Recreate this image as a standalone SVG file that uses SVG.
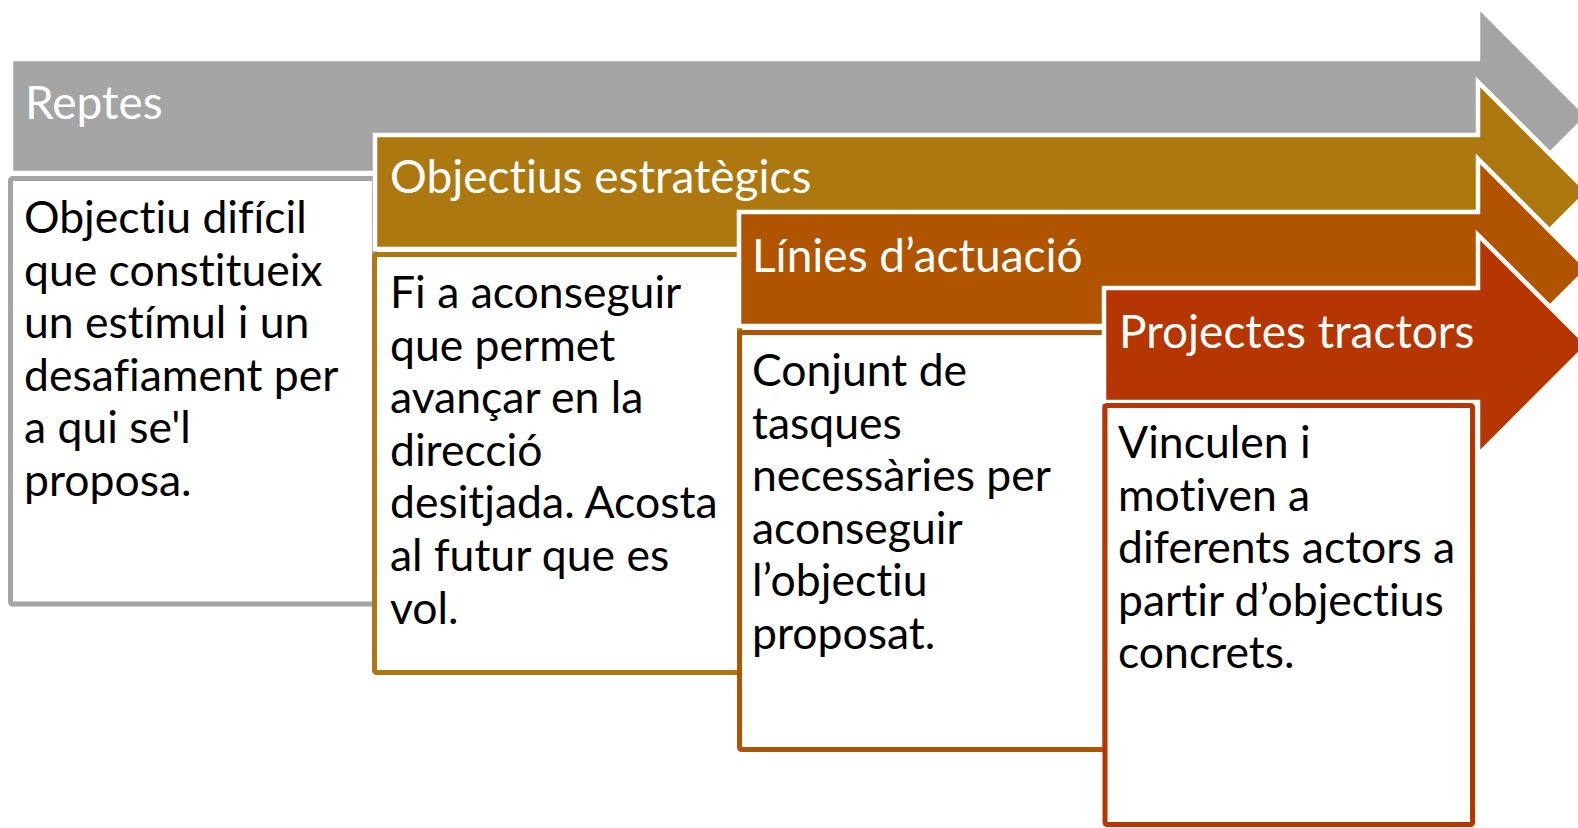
<svg xmlns="http://www.w3.org/2000/svg" width="1578" height="828" viewBox="0 0 1578 828">
<style>
  .arrow { stroke: #FFFFFF; stroke-width: 4.5; stroke-linejoin: miter; }
  .box { fill: #FFFFFF; stroke-width: 5; }
  .head { font-family: Lato, "Liberation Sans", sans-serif; font-size: 46px; fill: #FFFFFF; font-variant-ligatures: none; }
  .body { font-family: Lato, "Liberation Sans", sans-serif; font-size: 44.5px; fill: #000000; font-variant-ligatures: none; }
  .c1 { fill: #A5A5A5; } .s1 { stroke: #A5A5A5; }
  .c2 { fill: #AE7810; } .s2 { stroke: #AE7810; }
  .c3 { fill: #B05400; } .s3 { stroke: #B05400; }
  .c4 { fill: #B53600; } .s4 { stroke: #B53600; }
</style>
<rect width="1578" height="828" fill="#FFFFFF"/>

<g id="node-reptes">
  <polygon class="arrow c1" points="11,59 1478,59 1478,6 1588,116 1478,226 1478,173 11,173"/>
  <text class="head" x="25" y="119">Reptes</text>
  <rect class="box s1" x="10.5" y="178.5" width="364" height="425.5" rx="2"/>
  <text class="body" x="24" y="233">
    <tspan x="24" dy="0">Objectiu difícil</tspan>
    <tspan x="24" dy="52.6">que constitueix</tspan>
    <tspan x="24" dy="52.6">un estímul i un</tspan>
    <tspan x="24" dy="52.6">desafiament per</tspan>
    <tspan x="24" dy="52.6">a qui se'l</tspan>
    <tspan x="24" dy="52.6">proposa.</tspan>
  </text>
</g>

<g id="node-objectius">
  <polygon class="arrow c2" points="375,135 1478,135 1478,82 1588,192 1478,302 1478,249 375,249"/>
  <text class="head" x="390" y="193">Objectius estratègics</text>
  <rect class="box s2" x="374.5" y="254.5" width="365" height="418" rx="2"/>
  <text class="body" x="390" y="308">
    <tspan x="390" dy="0">Fi a aconseguir</tspan>
    <tspan x="390" dy="52.6">que permet</tspan>
    <tspan x="390" dy="52.6">avançar en la</tspan>
    <tspan x="390" dy="52.6">direcció</tspan>
    <tspan x="390" dy="52.6">desitjada. Acosta</tspan>
    <tspan x="390" dy="52.6">al futur que es</tspan>
    <tspan x="390" dy="52.6">vol.</tspan>
  </text>
</g>

<g id="node-linies">
  <polygon class="arrow c3" points="739,212 1478,212 1478,159 1588,269 1478,379 1478,326 739,326"/>
  <text class="head" x="752" y="272">Línies d’actuació</text>
  <rect class="box s3" x="739.5" y="332.5" width="365.5" height="417" rx="2"/>
  <text class="body" x="752" y="386">
    <tspan x="752" dy="0">Conjunt de</tspan>
    <tspan x="752" dy="52.6">tasques</tspan>
    <tspan x="752" dy="52.6">necessàries per</tspan>
    <tspan x="752" dy="52.6">aconseguir</tspan>
    <tspan x="752" dy="52.6">l’objectiu</tspan>
    <tspan x="752" dy="52.6">proposat.</tspan>
  </text>
</g>

<g id="node-projectes">
  <polygon class="arrow c4" points="1104,288 1478,288 1478,235 1588,345 1478,455 1478,402 1104,402"/>
  <text class="head" x="1119" y="348">Projectes tractors</text>
  <rect class="box s4" x="1105" y="405.5" width="367.5" height="419" rx="2"/>
  <text class="body" x="1118" y="458">
    <tspan x="1118" dy="0">Vinculen i</tspan>
    <tspan x="1118" dy="52.6">motiven a</tspan>
    <tspan x="1118" dy="52.6">diferents actors a</tspan>
    <tspan x="1118" dy="52.6">partir d’objectius</tspan>
    <tspan x="1118" dy="52.6">concrets.</tspan>
  </text>
</g>

<g id="connectors"></g>
</svg>
